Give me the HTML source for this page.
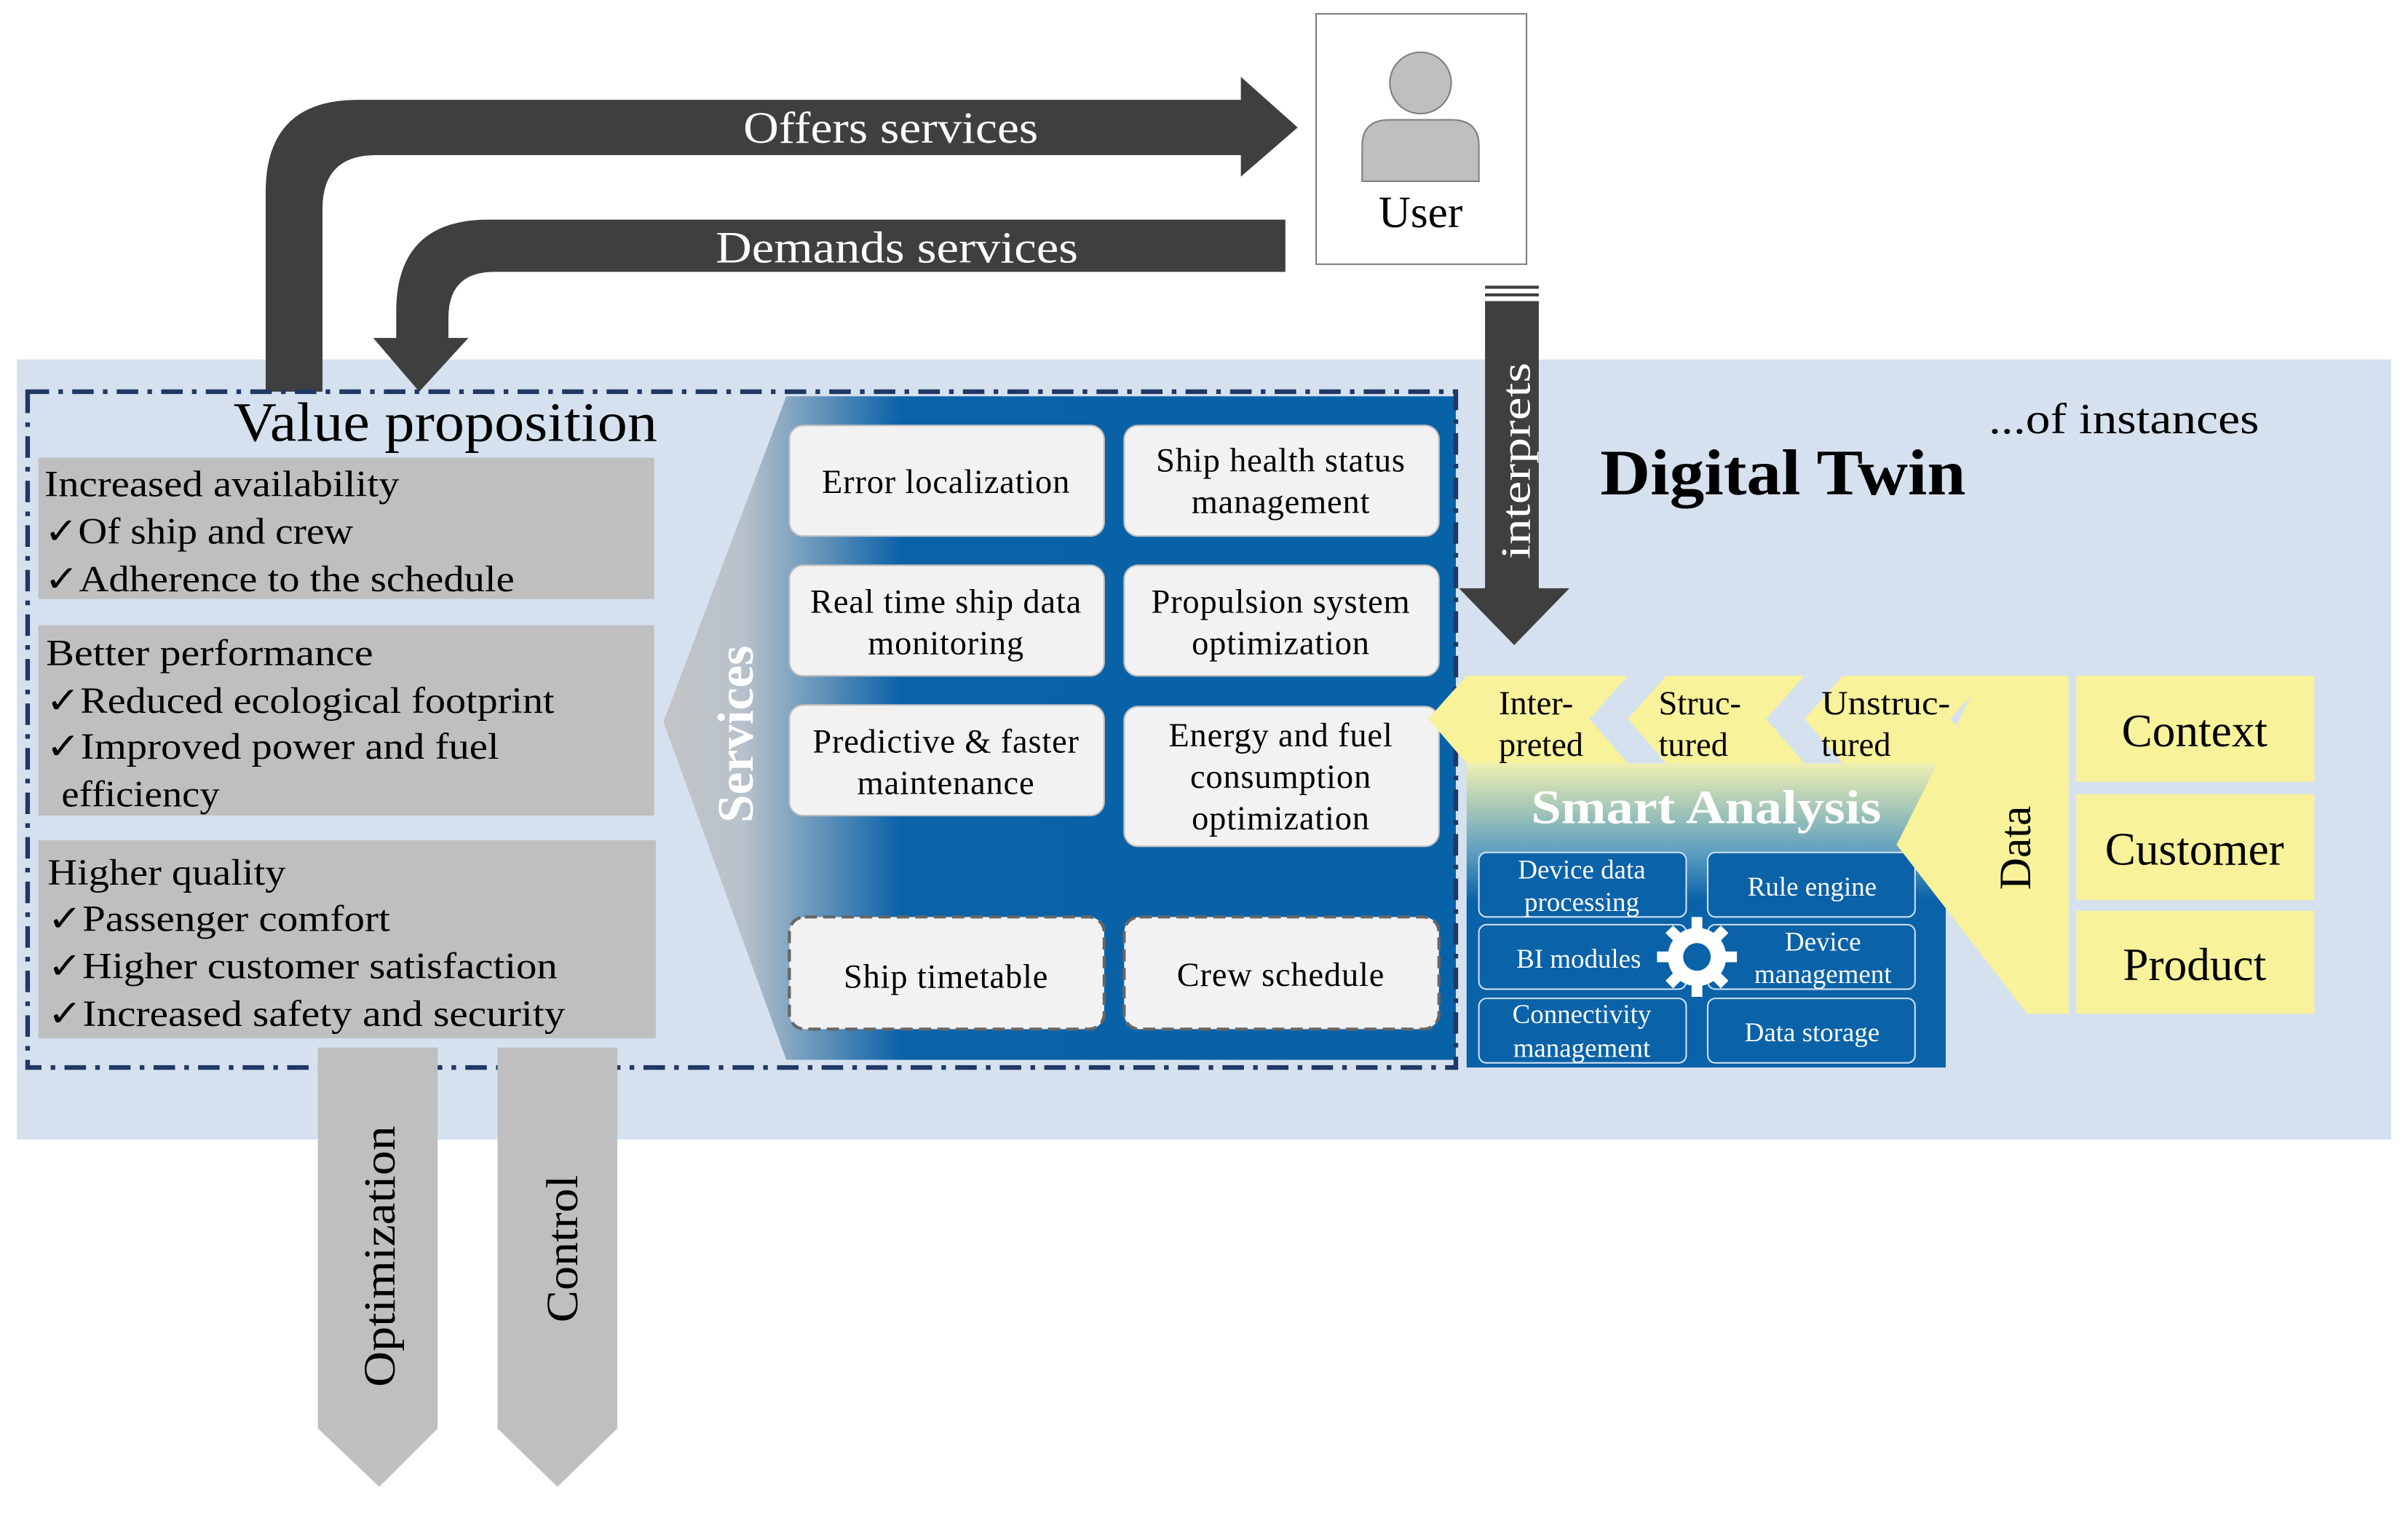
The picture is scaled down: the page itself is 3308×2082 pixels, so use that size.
<!DOCTYPE html>
<html><head><meta charset="utf-8"><style>
html,body{margin:0;padding:0;background:#fff;}
svg{display:block;}
text{font-family:"Liberation Serif",serif;}
</style></head><body>
<svg width="3308" height="2082" viewBox="0 0 1568 987" preserveAspectRatio="none" xmlns="http://www.w3.org/2000/svg">
<defs>
<linearGradient id="sg" x1="0" y1="0" x2="1" y2="0">
<stop offset="0" stop-color="#c4c4c4"/><stop offset="0.1" stop-color="#b8c2cc"/><stop offset="0.3" stop-color="#0a62a8"/><stop offset="1" stop-color="#0862a8"/>
</linearGradient>
<linearGradient id="ag" x1="0" y1="0" x2="0" y2="1">
<stop offset="0" stop-color="#eef0b0"/><stop offset="0.3" stop-color="#5a9cc0"/><stop offset="0.45" stop-color="#0a62a8"/><stop offset="1" stop-color="#0a62a8"/>
</linearGradient>
</defs>
<rect x="11" y="234" width="1546" height="508" fill="#d6e1ef"/>
<path d="M173,255 L173,125 Q173,65 233,65 L808,65 L808,50 L845,83 L808,115 L808,101 L245,101 Q210,101 210,136 L210,255 Z" fill="#3f3f3f"/>
<text x="484" y="93" font-size="29" fill="#fff" textLength="192" lengthAdjust="spacingAndGlyphs">Offers services</text>
<path d="M837,143 L318,143 Q258,143 258,203 L258,220 L243,220 L273,255 L305,220 L292,220 L292,207 Q292,177 322,177 L837,177 Z" fill="#3f3f3f"/>
<text x="466" y="171" font-size="29" fill="#fff" textLength="236" lengthAdjust="spacingAndGlyphs">Demands services</text>
<rect x="857" y="9" width="137" height="163" fill="#fff" stroke="#808080" stroke-width="1"/>
<circle cx="925" cy="54" r="20" fill="#bfbfbf" stroke="#808080" stroke-width="1"/>
<path d="M887,118 L887,95 Q887,78 905,78 L945,78 Q963,78 963,95 L963,118 Z" fill="#bfbfbf" stroke="#808080" stroke-width="1"/>
<text x="925" y="148" font-size="29" text-anchor="middle">User</text>
<rect x="967" y="186" width="35" height="2" fill="#3f3f3f"/>
<rect x="967" y="191" width="35" height="2" fill="#3f3f3f"/>
<path d="M967,196 L1002,196 L1002,383 L1022,383 L986,420 L950,383 L967,383 Z" fill="#3f3f3f"/>
<text transform="translate(996,300) rotate(-90)" font-size="27" fill="#fff" text-anchor="middle" textLength="128" lengthAdjust="spacingAndGlyphs">interprets</text>
<text x="1042" y="322" font-size="42" font-weight="bold" textLength="238" lengthAdjust="spacingAndGlyphs">Digital Twin</text>
<text x="1295" y="282" font-size="28" textLength="176" lengthAdjust="spacingAndGlyphs">...of instances</text>
<polygon points="512,258 948,258 948,690 512,690 432,470" fill="url(#sg)"/>
<text transform="translate(490,478) rotate(-90)" font-size="33" font-weight="bold" fill="#fff" text-anchor="middle">Services</text>
<g fill="#f2f2f2" stroke="#bfbfbf" stroke-width="1">
<rect x="514" y="277" width="205" height="72" rx="9"/>
<rect x="732" y="277" width="205" height="72" rx="9"/>
<rect x="514" y="368" width="205" height="72" rx="9"/>
<rect x="732" y="368" width="205" height="72" rx="9"/>
<rect x="514" y="459" width="205" height="72" rx="9"/>
<rect x="732" y="460" width="205" height="91" rx="9"/>
</g>
<g fill="#f2f2f2" stroke="#666" stroke-width="2" stroke-dasharray="8,4">
<rect x="514" y="597" width="205" height="73" rx="10"/>
<rect x="732" y="597" width="205" height="73" rx="10"/>
</g>
<g font-size="22" text-anchor="middle" letter-spacing="0.4">
<text x="616" y="321">Error localization</text>
<text x="834" y="307">Ship health status</text><text x="834" y="334">management</text>
<text x="616" y="399">Real time ship data</text><text x="616" y="426">monitoring</text>
<text x="834" y="399">Propulsion system</text><text x="834" y="426">optimization</text>
<text x="616" y="490">Predictive &amp; faster</text><text x="616" y="517">maintenance</text>
<text x="834" y="486">Energy and fuel</text><text x="834" y="513">consumption</text><text x="834" y="540">optimization</text>
<text x="616" y="643">Ship timetable</text>
<text x="834" y="642">Crew schedule</text>
</g>
<rect x="18" y="255" width="930" height="440" fill="none" stroke="#1f3864" stroke-width="3" stroke-dasharray="14,6,3,6"/>
<text x="152" y="287" font-size="36" textLength="276" lengthAdjust="spacingAndGlyphs">Value proposition</text>
<rect x="25" y="298" width="401" height="92" fill="#bfbfbf"/>
<rect x="25" y="407" width="401" height="124" fill="#bfbfbf"/>
<rect x="25" y="547" width="402" height="129" fill="#bfbfbf"/>
<g font-size="24">
<text x="29" y="323" textLength="231" lengthAdjust="spacingAndGlyphs">Increased availability</text>
<text x="29" y="354" textLength="201" lengthAdjust="spacingAndGlyphs">✓Of ship and crew</text>
<text x="29" y="385" textLength="306" lengthAdjust="spacingAndGlyphs">✓Adherence to the schedule</text>
<text x="30" y="433" textLength="213" lengthAdjust="spacingAndGlyphs">Better performance</text>
<text x="30" y="464" textLength="331" lengthAdjust="spacingAndGlyphs">✓Reduced ecological footprint</text>
<text x="30" y="494" textLength="295" lengthAdjust="spacingAndGlyphs">✓Improved power and fuel</text>
<text x="40" y="525" textLength="103" lengthAdjust="spacingAndGlyphs">efficiency</text>
<text x="31" y="576" textLength="155" lengthAdjust="spacingAndGlyphs">Higher quality</text>
<text x="31" y="606" textLength="223" lengthAdjust="spacingAndGlyphs">✓Passenger comfort</text>
<text x="31" y="637" textLength="332" lengthAdjust="spacingAndGlyphs">✓Higher customer satisfaction</text>
<text x="31" y="668" textLength="337" lengthAdjust="spacingAndGlyphs">✓Increased safety and security</text>
</g>
<polygon points="207,682 285,682 285,930 247,968 207,930" fill="#bfbfbf"/>
<polygon points="324,682 402,682 402,930 363,968 324,930" fill="#bfbfbf"/>
<text transform="translate(257,818) rotate(-90)" font-size="29" text-anchor="middle" textLength="170" lengthAdjust="spacingAndGlyphs">Optimization</text>
<text transform="translate(376,813) rotate(-90)" font-size="29" text-anchor="middle" textLength="96" lengthAdjust="spacingAndGlyphs">Control</text>
<rect x="955" y="497" width="312" height="198" fill="url(#ag)"/>
<text x="1111" y="536" font-size="31" font-weight="bold" fill="#fff" text-anchor="middle" textLength="228" lengthAdjust="spacingAndGlyphs">Smart Analysis</text>
<g fill="#0a62a8" stroke="#d0e0f0" stroke-width="1">
<rect x="963" y="555" width="135" height="42" rx="5"/>
<rect x="1112" y="555" width="135" height="42" rx="5"/>
<rect x="963" y="602" width="135" height="42" rx="5"/>
<rect x="1112" y="602" width="135" height="42" rx="5"/>
<rect x="963" y="650" width="135" height="42" rx="5"/>
<rect x="1112" y="650" width="135" height="42" rx="5"/>
</g>
<g fill="#fff">
<circle cx="1105" cy="623" r="19"/>
<g stroke="#fff" stroke-width="7">
<line x1="1105" y1="597" x2="1105" y2="649"/>
<line x1="1079" y1="623" x2="1131" y2="623"/>
<line x1="1087" y1="605" x2="1123" y2="641"/>
<line x1="1123" y1="605" x2="1087" y2="641"/>
</g>
<circle cx="1105" cy="623" r="9" fill="#0a62a8"/>
</g>
<g font-size="17.5" fill="#fff" text-anchor="middle">
<text x="1030" y="572">Device data</text><text x="1030" y="593">processing</text>
<text x="1180" y="583">Rule engine</text>
<text x="1028" y="630">BI modules</text>
<text x="1187" y="619">Device</text><text x="1187" y="640">management</text>
<text x="1030" y="666">Connectivity</text><text x="1030" y="688">management</text>
<text x="1180" y="678">Data storage</text>
</g>
<g fill="#f8f29a">
<polygon points="955,440 1060,440 1035,468 1060,497 955,497 930,468"/>
<polygon points="1085,440 1175,440 1150,468 1175,497 1085,497 1060,468"/>
<polygon points="1200,440 1295,440 1270,468 1295,497 1200,497 1175,468"/>
<polygon points="1290,440 1347,440 1347,660 1320,660 1235,550"/>
<rect x="1352" y="440" width="155" height="69"/>
<rect x="1352" y="517" width="155" height="69"/>
<rect x="1352" y="593" width="155" height="67"/>
</g>
<g font-size="22">
<text x="976" y="465">Inter-</text><text x="976" y="492">preted</text>
<text x="1080" y="465">Struc-</text><text x="1080" y="492">tured</text>
<text x="1186" y="465" textLength="84" lengthAdjust="spacingAndGlyphs">Unstruc-</text><text x="1186" y="492">tured</text>
</g>
<text transform="translate(1322,552) rotate(-90)" font-size="29" text-anchor="middle">Data</text>
<g font-size="30" text-anchor="middle">
<text x="1429" y="486">Context</text>
<text x="1429" y="563">Customer</text>
<text x="1429" y="638">Product</text>
</g>
</svg>
</body></html>
